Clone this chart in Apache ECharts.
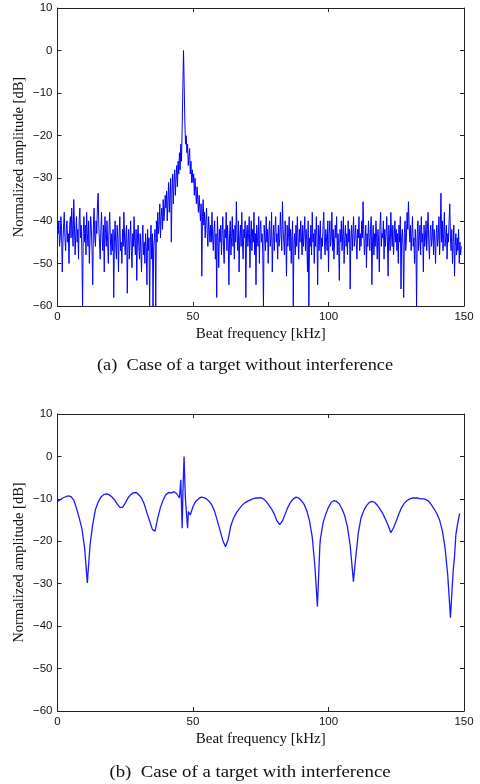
<!DOCTYPE html>
<html><head><meta charset="utf-8">
<script src="https://cdn.jsdelivr.net/npm/echarts@6/dist/echarts.min.js"></script>
<style>html,body{margin:0;padding:0;background:#fff}#c{width:480px;height:784px}</style>
</head><body><div id="c"></div>
<script>
// (a) no interference: amplitude [dB] sampled every 0.25 kHz from 0 kHz
const freqStepA = 0.25;
const ampA = [
-41,-43,-40,-46,-44,-39,-42,-52,-45,-41,-38,-44,-47,-42,-40,-45,-43,-50,-41,-39,
-44,-37,-42,-46,-35,-41,-48,-43,-39,-45,-42,-49,-40,-37,-44,-41,-47,-60,-43,-39,
-45,-41,-48,-38,-43,-46,-40,-50,-44,-39,-42,-47,-55,-41,-37,-44,-46,-40,-43,-36,
-33.5,-41,-45,-49,-42,-38,-44,-47,-41,-52,-39,-43,-46,-40,-45,-50,-42,-38,-44,-48,
-43,-47,-42,-58,-45,-40,-46,-49,-41,-44,-52,-43,-39,-47,-45,-50,-42,-46,-38,-44,
-48,-43,-41,-57,-45,-42,-49,-44,-40,-47,-51,-43,-46,-39,-45,-48,-42,-54,-44,-41,
-46,-49,-43,-47,-52,-44,-41,-48,-45,-50,-43,-46,-55,-42,-47,-44,-60,-45,-41,-49,
-43,-60,-46,-44,-42,-60,-40,-45,-38,-43,-41,-36,-44,-39,-37,-42,-35,-40,-38,-34,
-37,-33,-40,-35,-31,-38,-34,-30,-45,-33,-29,-36,-31,-28,-34,-30,-27,-32,-26,-29,
-24,-28,-22,-26,-18,-9,0,-8,-17,-22,-20,-24,-22,-27,-25,-23,-29,-26,-31,-28,
-31,-29,-34,-30,-33,-36,-32,-35,-38,-34,-37,-40,-36,-53,-39,-35,-41,-38,-44,-40,
-37,-43,-46,-39,-42,-45,-41,-45,-38,-44,-47,-42,-40,-49,-43,-58,-39,-44,-51,-42,
-45,-41,-48,-43,-39,-46,-50,-42,-44,-38,-47,-41,-45,-55,-43,-40,-48,-44,-39,-46,
-42,-49,-41,-45,-35.5,-43,-47,-40,-52,-44,-41,-46,-38,-45,-49,-42,-44,-40,-58,-43,
-41,-46,-43,-39,-51,-44,-40,-47,-42,-45,-38,-48,-43,-55,-41,-44,-46,-39,-50,-42,
-40,-45,-43,-48,-60,-41,-44,-47,-39,-45,-42,-50,-43,-40,-46,-44,-38,-52,-45,-41,
-47,-42,-39,-45,-43,-49,-41,-46,-44,-38,-43,-47,-35.5,-42,-45,-48,-40,-44,-53,-41,
-46,-43,-39,-47,-42,-50,-44,-40,-60,-45,-43,-48,-41,-46,-39,-44,-49,-42,-45,-40,
-44,-48,-41,-46,-43,-39,-47,-42,-45,-52,-40,-60,-44,-46,-41,-48,-38,-45,-43,-50,
-42,-46,-39,-44,-55,-41,-47,-43,-40,-49,-44,-46,-41,-38,-45,-48,-42,-44,-47,-40,
-52,-43,-40,-46,-44,-38,-47,-42,-49,-45,-41,-44,-39,-48,-43,-46,-54,-42,-45,-40,
-47,-43,-39,-50,-44,-41,-46,-43,-48,-40,-45,-42,-56,-44,-41,-47,-43,-39,-46,-44,
-41,-45,-49,-42,-44,-39,-47,-43,-46,-40,-44,-35.5,-42,-48,-45,-41,-51,-43,-46,-40,
-44,-47,-42,-39,-55,-45,-41,-48,-43,-46,-40,-44,-49,-42,-45,-52,-41,-38,-46,-43,
-44,-40,-49,-42,-46,-43,-39,-45,-53,-41,-44,-47,-38,-43,-46,-41,-48,-44,-40,-45,
-42,-47,-43,-50,-41,-45,-39,-56,-44,-42,-46,-58,-43,-40,-47,-44,-38,-42,-35.5,-41,
-45,-41,-47,-43,-39,-46,-44,-50,-42,-45,-60,-43,-40,-47,-44,-41,-48,-39,-45,-43,
-52,-41,-46,-44,-40,-47,-42,-38,-45,-49,-43,-41,-46,-44,-40,-48,-42,-45,-50,-43,
-41,-46,-44,-39,-48,-42,-33.5,-45,-40,-47,-43,-38,-46,-44,-41,-49,-43,-45,-40,-36,
-44,-47,-42,-50,-45,-41,-53,-46,-43,-48,-44,-47,-42,-50,-45,-48,-46
];
// (b) with interference
const freqB = [0,1,2,3,4,5,6,7,8,9,10,11,12,13,14,15,16,17,18,19,20,21,22,23,24,25,26,27,28,29,
30,31,32,33,34,35,36,37,38,39,40,41,42,43,44,45,45.5,46,46.3,46.7,47.2,47.6,48,48.3,49,
50,51,52,53,54,55,56,57,58,59,60,61,62,63,64,65,66,67,68,69,70,71,72,73,74,75,76,77,78,79,
80,81,82,83,84,85,86,87,88,89,90,91,92,93,94,95,95.9,96.8,97,98,99,100,101,102,103,104,105,106,107,108,109.2,110,110.5,
111,112,113,114,115,116,117,118,119,120,121,122,123,124,125,126,127,128,129,130,131,132,133,134,135,136,137,138,139,
140,141,142,143,144,145,146,146.5,147,147.6,148.4];
const ampB = [-10.6,-10.2,-9.8,-9.5,-9.3,-9.5,-10.3,-12.2,-14.5,-17.0,-21.5,-29.8,-21.0,-16.0,-12.5,-10.8,-9.6,-9.0,-8.8,-9.0,
-9.5,-10.2,-11.2,-12.0,-12.0,-11.0,-9.8,-9.0,-8.6,-8.5,
-9.0,-9.8,-11.2,-13.3,-15.2,-17.2,-17.6,-14.5,-12.0,-10.2,-9.0,-8.5,-8.6,-8.3,-8.8,-9.8,-5.5,-16.9,-8,0,-10,-13.5,-16.9,-13.0,-13.8,
-11.8,-10.6,-10.0,-9.6,-9.7,-10.0,-10.6,-11.5,-13.0,-15.2,-17.5,-19.8,-21.3,-19.5,-16.2,-14.5,-13.3,-12.4,-11.6,-11.0,-10.6,-10.3,-10.0,-9.8,-9.8,-9.7,-10.0,-10.6,-11.5,-12.4,
-13.6,-15.2,-16.1,-15.2,-13.6,-12.0,-10.8,-10.0,-9.6,-9.8,-10.4,-11.3,-12.8,-15.2,-19.0,-26.0,-35.4,-21.2,-19.5,-15.6,-13.6,-12.0,-10.8,-10.4,-10.6,-11.2,-12.4,-14.0,-16.6,-21.0,-29.5,-24.0,-21.2,
-18.0,-14.5,-12.8,-11.6,-10.9,-10.6,-10.8,-11.5,-12.4,-13.4,-14.8,-16.2,-18.0,-16.8,-15.2,-13.5,-12.0,-11.0,-10.4,-10.0,-9.8,-9.8,-9.8,-10.0,-10.0,-10.2,-10.6,-11.4,-12.4,
-13.5,-15.0,-17.5,-21.5,-28.0,-38.0,-27.0,-23.6,-18.5,-16.0,-13.4];
const xTicks = [0, 50, 100, 150];
const yTicks = [-60, -50, -40, -30, -20, -10, 0, 10];
const captions = ['(a)  Case of a target without interference', '(b)  Case of a target with interference'];

const seriesA = ampA.map((v, i) => [i * freqStepA, v]);
const seriesB = freqB.map((f, i) => [f, ampB[i]]);

const chart = echarts.init(document.getElementById('c'), null, {renderer: 'canvas'});
const serif = 'Liberation Serif, Times New Roman, serif';
const lab = {color: '#111', fontFamily: 'Liberation Sans, Arial, sans-serif', fontSize: 11.5,
  formatter: v => String(v).replace('-', '\u2212')};
function xAx(gi, bottom) {
  return {
    type: 'value', gridIndex: gi, min: xTicks[0], max: xTicks[xTicks.length - 1], interval: 50,
    position: bottom ? 'bottom' : 'top',
    name: bottom ? 'Beat frequency [kHz]' : '', nameLocation: 'middle', nameGap: 21,
    nameMoveOverlap: false,
    nameTextStyle: {fontFamily: serif, fontSize: 15, color: '#111'},
    axisLine: {show: true, onZero: false, lineStyle: {color: '#222', width: 1}},
    axisTick: {show: true, inside: true, length: 4, lineStyle: {color: '#222'}},
    axisLabel: Object.assign({show: bottom, margin: 5}, lab),
    splitLine: {show: false}
  };
}
function yAx(gi, left) {
  return {
    type: 'value', gridIndex: gi, min: yTicks[0], max: yTicks[yTicks.length - 1], interval: 10,
    position: left ? 'left' : 'right',
    name: left ? 'Normalized amplitude [dB]' : '', nameLocation: 'middle', nameGap: 31,
    nameMoveOverlap: false,
    nameTextStyle: {fontFamily: serif, fontSize: 14.5, color: '#111'},
    axisLine: {show: true, onZero: false, lineStyle: {color: '#222', width: 1}},
    axisTick: {show: true, inside: true, length: 4, lineStyle: {color: '#222'}},
    axisLabel: Object.assign({show: left, margin: 5}, lab),
    splitLine: {show: false}
  };
}
chart.setOption({
  animation: false,
  grid: [
    {left: 57.5, top: 8, width: 406.5, height: 298},
    {left: 57.5, top: 414, width: 406.5, height: 297}
  ],
  xAxis: [xAx(0, true), xAx(0, false), xAx(1, true), xAx(1, false)],
  yAxis: [yAx(0, true), yAx(0, false), yAx(1, true), yAx(1, false)],
  graphic: [
    {type: 'text', x: 245, y: 366, scaleX: 1.11, style: {text: captions[0], font: '16.5px ' + serif, fill: '#111', textAlign: 'center', textVerticalAlign: 'middle'}},
    {type: 'text', x: 250, y: 773, scaleX: 1.14, style: {text: captions[1], font: '16.5px ' + serif, fill: '#111', textAlign: 'center', textVerticalAlign: 'middle'}}
  ],
  series: [
    {type: 'line', xAxisIndex: 0, yAxisIndex: 0, data: seriesA, showSymbol: false, lineStyle: {color: '#0000ff', width: 1}, clip: true},
    {type: 'line', xAxisIndex: 2, yAxisIndex: 2, data: seriesB, showSymbol: false, lineStyle: {color: '#1a1aff', width: 1.3}, clip: true}
  ]
});
</script></body></html>
